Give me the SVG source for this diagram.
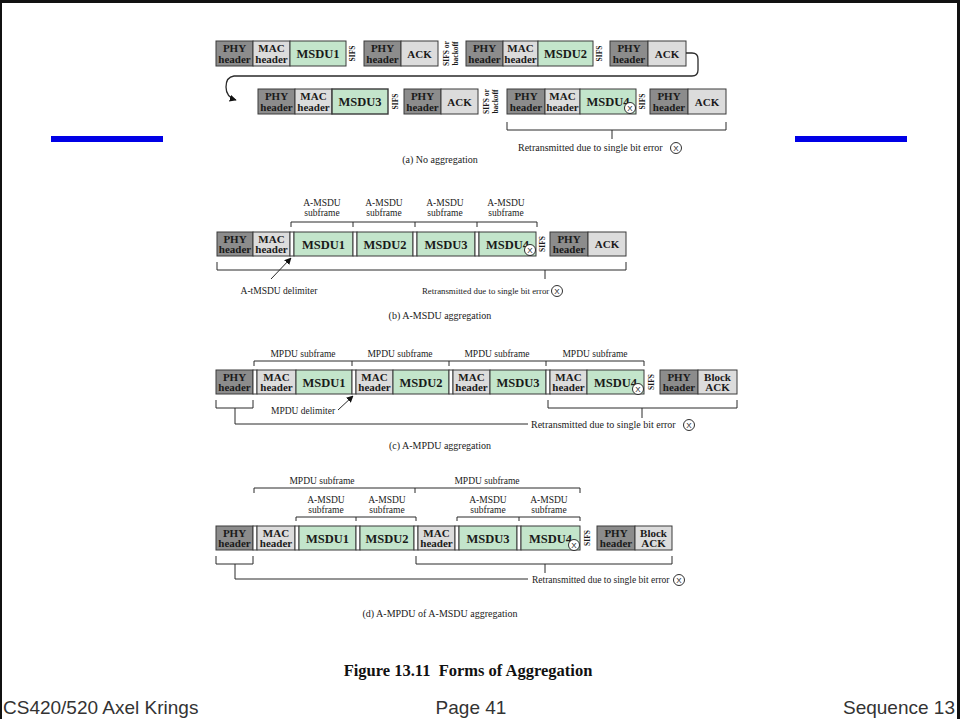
<svg xmlns="http://www.w3.org/2000/svg" width="960" height="719" viewBox="0 0 960 719">
<style>
.phy{fill:#8c8c8c;stroke:#3a3a3a;stroke-width:1}
.mac{fill:#dcdcdc;stroke:#3a3a3a;stroke-width:1}
.msdu{fill:#c3e5cb;stroke:#3a3a3a;stroke-width:1}
.dl{fill:#ffffff;stroke:#3a3a3a;stroke-width:1}
.bt{font-family:"Liberation Serif","Times New Roman",serif;font-weight:bold;font-size:11px;text-anchor:middle;fill:#1a1a1a}
.mt{font-family:"Liberation Serif","Times New Roman",serif;font-weight:bold;font-size:12.5px;text-anchor:middle;fill:#1a1a1a}
.st{font-family:"Liberation Serif","Times New Roman",serif;font-weight:bold;font-size:7.5px;text-anchor:middle;fill:#1a1a1a}
.lb{font-family:"Liberation Serif","Times New Roman",serif;font-size:9.5px;text-anchor:middle;fill:#1a1a1a}
.lbs{font-family:"Liberation Serif","Times New Roman",serif;font-size:9.5px;fill:#1a1a1a}
.cap{font-family:"Liberation Serif","Times New Roman",serif;font-size:10px;text-anchor:middle;fill:#1a1a1a}
.fig{font-family:"Liberation Serif","Times New Roman",serif;font-weight:bold;font-size:16.5px;text-anchor:middle;fill:#111}
.ft{font-family:"Liberation Sans",Arial,sans-serif;font-size:19px;fill:#333}
.br{fill:none;stroke:#2a2a2a;stroke-width:1}
.cx{fill:#fff;stroke:#1a1a1a;stroke-width:0.9}
.xt{font-family:"Liberation Sans",Arial,sans-serif;font-size:8px;text-anchor:middle;fill:#1a1a1a}
</style>
<defs>
<marker id="ah" viewBox="0 0 10 10" refX="9" refY="5" markerWidth="7" markerHeight="7" orient="auto" markerUnits="userSpaceOnUse">
<path d="M0,0 L10,5 L0,10 z" fill="#111"/>
</marker>
<g id="cxs"><circle class="cx" r="5.5"/><text class="xt" y="3">X</text></g>
</defs>
<rect width="960" height="719" fill="#fff"/>
<g id="frame">
<rect x="0" y="0" width="960" height="3" fill="#111"/>
<rect x="0" y="0" width="2" height="719" fill="#111"/>
<rect x="957" y="0" width="3" height="719" fill="#111"/>
</g>
<g id="bars">
<rect x="51" y="136" width="112" height="6" fill="#0000e6"/>
<rect x="795" y="136" width="112" height="6" fill="#0000e6"/>
</g>

<!-- (a) row 1 -->
<g id="a1-phy1"><rect class="phy" x="216" y="41" width="37" height="25"/><text class="bt" x="234.5" y="52">PHY</text><text class="bt" x="234.5" y="62.5">header</text></g>
<g id="a1-mac1"><rect class="mac" x="253" y="41" width="37" height="25"/><text class="bt" x="271.5" y="52">MAC</text><text class="bt" x="271.5" y="62.5">header</text></g>
<g id="a1-msdu1"><rect class="msdu" x="290" y="41" width="56" height="25"/><text class="mt" x="318" y="58">MSDU1</text></g>
<g id="a1-sifs1"><text class="st" transform="translate(355,53.5) rotate(-90)">SIFS</text></g>
<g id="a1-phy2"><rect class="phy" x="364" y="41" width="37" height="25"/><text class="bt" x="382.5" y="52">PHY</text><text class="bt" x="382.5" y="62.5">header</text></g>
<g id="a1-ack1"><rect class="mac" x="401" y="41" width="37" height="25"/><text class="bt" x="419.5" y="57.5">ACK</text></g>
<g id="a1-sb"><text class="st" transform="translate(449,53.5) rotate(-90)">SIFS or</text><text class="st" transform="translate(457.5,53.5) rotate(-90)">backoff</text></g>
<g id="a1-phy3"><rect class="phy" x="466" y="41" width="37" height="25"/><text class="bt" x="484.5" y="52">PHY</text><text class="bt" x="484.5" y="62.5">header</text></g>
<g id="a1-mac2"><rect class="mac" x="503" y="41" width="35" height="25"/><text class="bt" x="520.5" y="52">MAC</text><text class="bt" x="520.5" y="62.5">header</text></g>
<g id="a1-msdu2"><rect class="msdu" x="538" y="41" width="55" height="25"/><text class="mt" x="565.5" y="58">MSDU2</text></g>
<g id="a1-sifs2"><text class="st" transform="translate(602,53.5) rotate(-90)">SIFS</text></g>
<g id="a1-phy4"><rect class="phy" x="610" y="41" width="38" height="25"/><text class="bt" x="629" y="52">PHY</text><text class="bt" x="629" y="62.5">header</text></g>
<g id="a1-ack2"><rect class="mac" x="648" y="41" width="38" height="25"/><text class="bt" x="667" y="57.5">ACK</text></g>

<!-- (a) row 2 -->
<g id="a2-phy1"><rect class="phy" x="258" y="89" width="37" height="25"/><text class="bt" x="276.5" y="100">PHY</text><text class="bt" x="276.5" y="110.5">header</text></g>
<g id="a2-mac1"><rect class="mac" x="295" y="89" width="37" height="25"/><text class="bt" x="313.5" y="100">MAC</text><text class="bt" x="313.5" y="110.5">header</text></g>
<g id="a2-msdu3"><rect class="msdu" x="332" y="89" width="56" height="25" style="stroke-width:1.4"/><text class="mt" x="360" y="106">MSDU3</text></g>
<g id="a2-sifs1"><text class="st" transform="translate(398,101.5) rotate(-90)">SIFS</text></g>
<g id="a2-phy2"><rect class="phy" x="404" y="89" width="37" height="25"/><text class="bt" x="422.5" y="100">PHY</text><text class="bt" x="422.5" y="110.5">header</text></g>
<g id="a2-ack1"><rect class="mac" x="441" y="89" width="37" height="25"/><text class="bt" x="459.5" y="105.5">ACK</text></g>
<g id="a2-sb"><text class="st" transform="translate(489,101.5) rotate(-90)">SIFS or</text><text class="st" transform="translate(497.5,101.5) rotate(-90)">backoff</text></g>
<g id="a2-phy3"><rect class="phy" x="507" y="89" width="38" height="25"/><text class="bt" x="526" y="100">PHY</text><text class="bt" x="526" y="110.5">header</text></g>
<g id="a2-mac2"><rect class="mac" x="545" y="89" width="35" height="25"/><text class="bt" x="562.5" y="100">MAC</text><text class="bt" x="562.5" y="110.5">header</text></g>
<g id="a2-msdu4"><rect class="msdu" x="580" y="89" width="56" height="25"/><text class="mt" x="608" y="106">MSDU4</text><use href="#cxs" x="630" y="108"/></g>
<g id="a2-sifs2"><text class="st" transform="translate(645,101.5) rotate(-90)">SIFS</text></g>
<g id="a2-phy4"><rect class="phy" x="650" y="89" width="38" height="25"/><text class="bt" x="669" y="100">PHY</text><text class="bt" x="669" y="110.5">header</text></g>
<g id="a2-ack2"><rect class="mac" x="688" y="89" width="38" height="25"/><text class="bt" x="707" y="105.5">ACK</text></g>
<g id="a-retx"><text class="lbs" x="518" y="151" style="font-size:10px">Retransmitted due to single bit error</text><use href="#cxs" x="676" y="148"/></g>
<g id="a-cap"><text class="cap" x="440" y="163">(a) No aggregation</text></g>

<!-- (b) -->
<g id="b-labels">
<text class="lb" x="322" y="206">A-MSDU</text><text class="lb" x="322" y="216">subframe</text>
<text class="lb" x="384" y="206">A-MSDU</text><text class="lb" x="384" y="216">subframe</text>
<text class="lb" x="445" y="206">A-MSDU</text><text class="lb" x="445" y="216">subframe</text>
<text class="lb" x="506" y="206">A-MSDU</text><text class="lb" x="506" y="216">subframe</text>
</g>
<g id="b-phy"><rect class="phy" x="217" y="232" width="36" height="24"/><text class="bt" x="235" y="243">PHY</text><text class="bt" x="235" y="253">header</text></g>
<g id="b-mac"><rect class="mac" x="253" y="232" width="37" height="24"/><text class="bt" x="271.5" y="243">MAC</text><text class="bt" x="271.5" y="253">header</text></g>
<g id="b-d1"><rect class="dl" x="290" y="232" width="4" height="24"/></g>
<g id="b-msdu1"><rect class="msdu" x="294" y="232" width="59" height="24"/><text class="mt" x="323.5" y="248.5">MSDU1</text></g>
<g id="b-d2"><rect class="dl" x="353" y="232" width="4" height="24"/></g>
<g id="b-msdu2"><rect class="msdu" x="357" y="232" width="56" height="24"/><text class="mt" x="385" y="248.5">MSDU2</text></g>
<g id="b-d3"><rect class="dl" x="413" y="232" width="4" height="24"/></g>
<g id="b-msdu3"><rect class="msdu" x="417" y="232" width="58" height="24"/><text class="mt" x="446" y="248.5">MSDU3</text></g>
<g id="b-d4"><rect class="dl" x="475" y="232" width="4" height="24"/></g>
<g id="b-msdu4"><rect class="msdu" x="479" y="232" width="57" height="24"/><text class="mt" x="507.5" y="248.5">MSDU4</text><use href="#cxs" x="530" y="250"/></g>
<g id="b-sifs"><text class="st" transform="translate(545,244) rotate(-90)">SIFS</text></g>
<g id="b-phy2"><rect class="phy" x="550" y="232" width="38" height="24"/><text class="bt" x="569" y="243">PHY</text><text class="bt" x="569" y="253">header</text></g>
<g id="b-ack"><rect class="mac" x="588" y="232" width="38" height="24"/><text class="bt" x="607" y="248">ACK</text></g>
<g id="b-delim-label"><text class="lb" x="279" y="294">A-tMSDU delimiter</text></g>
<g id="b-retx"><text class="lbs" x="422" y="294" style="font-size:8.8px">Retransmitted due to single bit error</text><use href="#cxs" x="557" y="291"/></g>
<g id="b-cap"><text class="cap" x="440" y="319">(b) A-MSDU aggregation</text></g>

<!-- (c) -->
<g id="c-labels">
<text class="lb" x="303" y="357">MPDU subframe</text>
<text class="lb" x="400" y="357">MPDU subframe</text>
<text class="lb" x="497" y="357">MPDU subframe</text>
<text class="lb" x="595" y="357">MPDU subframe</text>
</g>
<g id="c-phy"><rect class="phy" x="216" y="370" width="37" height="24"/><text class="bt" x="234.5" y="381">PHY</text><text class="bt" x="234.5" y="391">header</text></g>
<g id="c-d1"><rect class="dl" x="253" y="370" width="4" height="24"/></g>
<g id="c-mac1"><rect class="mac" x="257" y="370" width="39" height="24"/><text class="bt" x="276.5" y="381">MAC</text><text class="bt" x="276.5" y="391">header</text></g>
<g id="c-msdu1"><rect class="msdu" x="296" y="370" width="56" height="24"/><text class="mt" x="324" y="386.5">MSDU1</text></g>
<g id="c-d2"><rect class="dl" x="352" y="370" width="4" height="24"/></g>
<g id="c-mac2"><rect class="mac" x="356" y="370" width="37" height="24"/><text class="bt" x="374.5" y="381">MAC</text><text class="bt" x="374.5" y="391">header</text></g>
<g id="c-msdu2"><rect class="msdu" x="393" y="370" width="56" height="24"/><text class="mt" x="421" y="386.5">MSDU2</text></g>
<g id="c-d3"><rect class="dl" x="449" y="370" width="4" height="24"/></g>
<g id="c-mac3"><rect class="mac" x="453" y="370" width="37" height="24"/><text class="bt" x="471.5" y="381">MAC</text><text class="bt" x="471.5" y="391">header</text></g>
<g id="c-msdu3"><rect class="msdu" x="490" y="370" width="56" height="24"/><text class="mt" x="518" y="386.5">MSDU3</text></g>
<g id="c-d4"><rect class="dl" x="546" y="370" width="4" height="24"/></g>
<g id="c-mac4"><rect class="mac" x="550" y="370" width="37" height="24"/><text class="bt" x="568.5" y="381">MAC</text><text class="bt" x="568.5" y="391">header</text></g>
<g id="c-msdu4"><rect class="msdu" x="587" y="370" width="57" height="24"/><text class="mt" x="615.5" y="386.5">MSDU4</text><use href="#cxs" x="638" y="389"/></g>
<g id="c-sifs"><text class="st" transform="translate(654,382) rotate(-90)">SIFS</text></g>
<g id="c-phy2"><rect class="phy" x="660" y="370" width="38" height="24"/><text class="bt" x="679" y="381">PHY</text><text class="bt" x="679" y="391">header</text></g>
<g id="c-back"><rect class="mac" x="698" y="370" width="39" height="24"/><text class="bt" x="717.5" y="381">Block</text><text class="bt" x="717.5" y="391">ACK</text></g>
<g id="c-delim-label"><text class="lb" x="303" y="414">MPDU delimiter</text></g>
<g id="c-retx"><text class="lbs" x="531" y="428" style="font-size:10px">Retransmitted due to single bit error</text><use href="#cxs" x="689" y="425"/></g>
<g id="c-cap"><text class="cap" x="440" y="449">(c) A-MPDU aggregation</text></g>

<!-- (d) -->
<g id="d-labels">
<text class="lb" x="322" y="484">MPDU subframe</text>
<text class="lb" x="487" y="484">MPDU subframe</text>
<text class="lb" x="326" y="503">A-MSDU</text><text class="lb" x="326" y="513">subframe</text>
<text class="lb" x="387" y="503">A-MSDU</text><text class="lb" x="387" y="513">subframe</text>
<text class="lb" x="488" y="503">A-MSDU</text><text class="lb" x="488" y="513">subframe</text>
<text class="lb" x="549" y="503">A-MSDU</text><text class="lb" x="549" y="513">subframe</text>
</g>
<g id="d-phy"><rect class="phy" x="216" y="526" width="37" height="24"/><text class="bt" x="234.5" y="537">PHY</text><text class="bt" x="234.5" y="547">header</text></g>
<g id="d-d1"><rect class="dl" x="253" y="526" width="4" height="24"/></g>
<g id="d-mac1"><rect class="mac" x="257" y="526" width="38" height="24"/><text class="bt" x="276" y="537">MAC</text><text class="bt" x="276" y="547">header</text></g>
<g id="d-d2"><rect class="dl" x="295" y="526" width="4" height="24"/></g>
<g id="d-msdu1"><rect class="msdu" x="299" y="526" width="57" height="24"/><text class="mt" x="327.5" y="542.5">MSDU1</text></g>
<g id="d-d3"><rect class="dl" x="356" y="526" width="4" height="24"/></g>
<g id="d-msdu2"><rect class="msdu" x="360" y="526" width="54" height="24"/><text class="mt" x="387" y="542.5">MSDU2</text></g>
<g id="d-d4"><rect class="dl" x="414" y="526" width="4" height="24"/></g>
<g id="d-mac2"><rect class="mac" x="418" y="526" width="37" height="24"/><text class="bt" x="436.5" y="537">MAC</text><text class="bt" x="436.5" y="547">header</text></g>
<g id="d-d5"><rect class="dl" x="455" y="526" width="4" height="24"/></g>
<g id="d-msdu3"><rect class="msdu" x="459" y="526" width="58" height="24"/><text class="mt" x="488" y="542.5">MSDU3</text></g>
<g id="d-d6"><rect class="dl" x="517" y="526" width="4" height="24"/></g>
<g id="d-msdu4"><rect class="msdu" x="521" y="526" width="59" height="24"/><text class="mt" x="550.5" y="542.5">MSDU4</text><use href="#cxs" x="574" y="545"/></g>
<g id="d-sifs"><text class="st" transform="translate(590,538) rotate(-90)">SIFS</text></g>
<g id="d-phy2"><rect class="phy" x="597" y="526" width="38" height="24"/><text class="bt" x="616" y="537">PHY</text><text class="bt" x="616" y="547">header</text></g>
<g id="d-back"><rect class="mac" x="635" y="526" width="37" height="24"/><text class="bt" x="653.5" y="537">Block</text><text class="bt" x="653.5" y="547">ACK</text></g>
<g id="d-retx"><text class="lbs" x="532" y="583">Retransmitted due to single bit error</text><use href="#cxs" x="679" y="580"/></g>
<g id="d-cap"><text class="cap" x="440" y="617">(d) A-MPDU of A-MSDU aggregation</text></g>

<g id="figcap"><text class="fig" x="468" y="676">Figure 13.11&#160; Forms of Aggregation</text></g>
<g id="footer">
<text class="ft" x="3" y="714">CS420/520 Axel Krings</text>
<text class="ft" x="471" y="714" text-anchor="middle">Page 41</text>
<text class="ft" x="955" y="714" text-anchor="end">Sequence 13</text>
</g>

<g id="connectors">
<path class="br" d="M686,53 H692 Q698,53 698,59 V70 Q698,76 692,76 H234 Q226,77 226,87 Q226,97 236,100" marker-end="url(#ah)" style="stroke-width:1.3"/>
<path class="br" d="M507,122 V130 H726 V122 M612,130 V139"/>
<path class="br" d="M291,227 V222 H537 V227 M353,222 V227 M415,222 V227 M477,222 V227"/>
<path class="br" d="M217,262 V270 H626 V262 M545,270 V279"/>
<path class="br" d="M271,279 L291,258" marker-end="url(#ah)"/>
<path class="br" d="M254,366 V361 H644 V366 M352,361 V366 M449,361 V366 M546,361 V366"/>
<path class="br" d="M338,410 L353,396" marker-end="url(#ah)"/>
<path class="br" d="M216,400 V408 H253 V400 M235,408 V424 H528"/>
<path class="br" d="M548,400 V408 H737 V400 M642,408 V418"/>
<path class="br" d="M254,493 V488 H580 V493 M415,488 V493"/>
<path class="br" d="M296,521 V517 H416 V521 M356,517 V521"/>
<path class="br" d="M457,521 V517 H580 V521 M519,517 V521"/>
<path class="br" d="M216,556 V564 H253 V556 M235,564 V579 H528"/>
<path class="br" d="M416,556 V564 H672 V556 M545,564 V573"/>
</g>
</svg>
